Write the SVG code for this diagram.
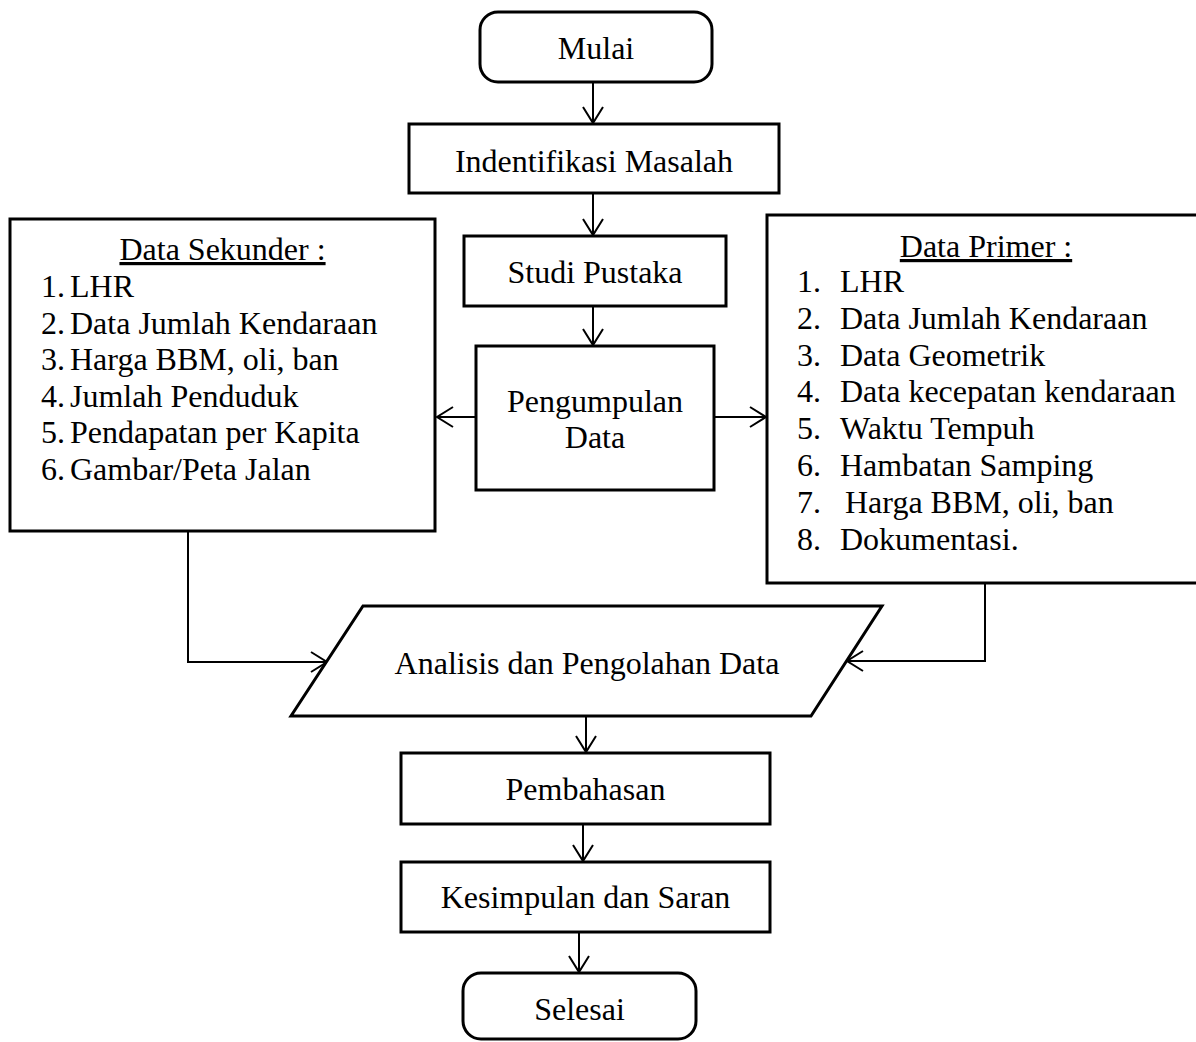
<svg xmlns="http://www.w3.org/2000/svg" width="1196" height="1042" viewBox="0 0 1196 1042">
<style>
.box{fill:#fff;stroke:#000;stroke-width:3}
.t{font-family:"Liberation Serif","Times New Roman",serif;font-size:32px;fill:#000}
.c{text-anchor:middle}
.u{text-decoration:underline}
.con{fill:none;stroke:#000;stroke-width:2}
</style>
<defs>
<marker id="arr" markerUnits="userSpaceOnUse" markerWidth="24" markerHeight="24" viewBox="-18 -12 20 24" refX="0" refY="0" orient="auto">
<path d="M-16,-10 L0,0 L-16,10" fill="none" stroke="#000" stroke-width="2"/>
</marker>
</defs>
<rect width="1196" height="1042" fill="#fff"/>
<g id="connectors">
<path class="con" d="M593,82 V123" marker-end="url(#arr)"/>
<path class="con" d="M593,193 V235" marker-end="url(#arr)"/>
<path class="con" d="M593,306 V345" marker-end="url(#arr)"/>
<path class="con" d="M476,417 H437" marker-end="url(#arr)"/>
<path class="con" d="M714,417 H766" marker-end="url(#arr)"/>
<path class="con" d="M188,531 V662 H327" marker-end="url(#arr)"/>
<path class="con" d="M985,583 V661 H847" marker-end="url(#arr)"/>
<path class="con" d="M586,716 V752" marker-end="url(#arr)"/>
<path class="con" d="M583,824 V861" marker-end="url(#arr)"/>
<path class="con" d="M579,932 V972" marker-end="url(#arr)"/>
</g>
<g id="mulai">
<rect class="box" x="480" y="12" width="232" height="70" rx="18"/>
<text class="t c" x="596" y="59">Mulai</text>
</g>
<g id="identifikasi">
<rect class="box" x="409" y="124" width="370" height="69"/>
<text class="t c" x="594" y="172">Indentifikasi Masalah</text>
</g>
<g id="studi">
<rect class="box" x="464" y="236" width="262" height="70"/>
<text class="t c" x="595" y="283">Studi Pustaka</text>
</g>
<g id="pengumpulan">
<rect class="box" x="476" y="346" width="238" height="144"/>
<text class="t c" x="595" y="412">Pengumpulan</text>
<text class="t c" x="595" y="448">Data</text>
</g>
<g id="sekunder">
<rect class="box" x="10" y="219" width="425" height="312"/>
<text class="t c u" x="222.5" y="260">Data Sekunder :</text>
<text class="t" x="41" y="297">1.</text><text class="t" x="70" y="297">LHR</text>
<text class="t" x="41" y="333.5">2.</text><text class="t" x="70" y="333.5">Data Jumlah Kendaraan</text>
<text class="t" x="41" y="370">3.</text><text class="t" x="70" y="370">Harga BBM, oli, ban</text>
<text class="t" x="41" y="406.5">4.</text><text class="t" x="70" y="406.5">Jumlah Penduduk</text>
<text class="t" x="41" y="443">5.</text><text class="t" x="70" y="443">Pendapatan per Kapita</text>
<text class="t" x="41" y="479.5">6.</text><text class="t" x="70" y="479.5">Gambar/Peta Jalan</text>
</g>
<g id="primer">
<rect class="box" x="767" y="215" width="432" height="368"/>
<text class="t c u" x="986" y="257">Data Primer :</text>
<text class="t" x="797" y="292">1.</text><text class="t" x="840" y="292">LHR</text>
<text class="t" x="797" y="329">2.</text><text class="t" x="840" y="329">Data Jumlah Kendaraan</text>
<text class="t" x="797" y="366">3.</text><text class="t" x="840" y="366">Data Geometrik</text>
<text class="t" x="797" y="402">4.</text><text class="t" x="840" y="402">Data kecepatan kendaraan</text>
<text class="t" x="797" y="439">5.</text><text class="t" x="840" y="439">Waktu Tempuh</text>
<text class="t" x="797" y="476">6.</text><text class="t" x="840" y="476">Hambatan Samping</text>
<text class="t" x="797" y="513">7.</text><text class="t" x="845" y="513">Harga BBM, oli, ban</text>
<text class="t" x="797" y="550">8.</text><text class="t" x="840" y="550">Dokumentasi.</text>
</g>
<g id="analisis">
<polygon class="box" points="363,606 882,606 811,716 291,716"/>
<text class="t c" x="587" y="674">Analisis dan Pengolahan Data</text>
</g>
<g id="pembahasan">
<rect class="box" x="401" y="753" width="369" height="71"/>
<text class="t c" x="585.5" y="800">Pembahasan</text>
</g>
<g id="kesimpulan">
<rect class="box" x="401" y="862" width="369" height="70"/>
<text class="t c" x="585.5" y="908">Kesimpulan dan Saran</text>
</g>
<g id="selesai">
<rect class="box" x="463" y="973" width="233" height="66" rx="18"/>
<text class="t c" x="579.5" y="1020">Selesai</text>
</g>
</svg>
